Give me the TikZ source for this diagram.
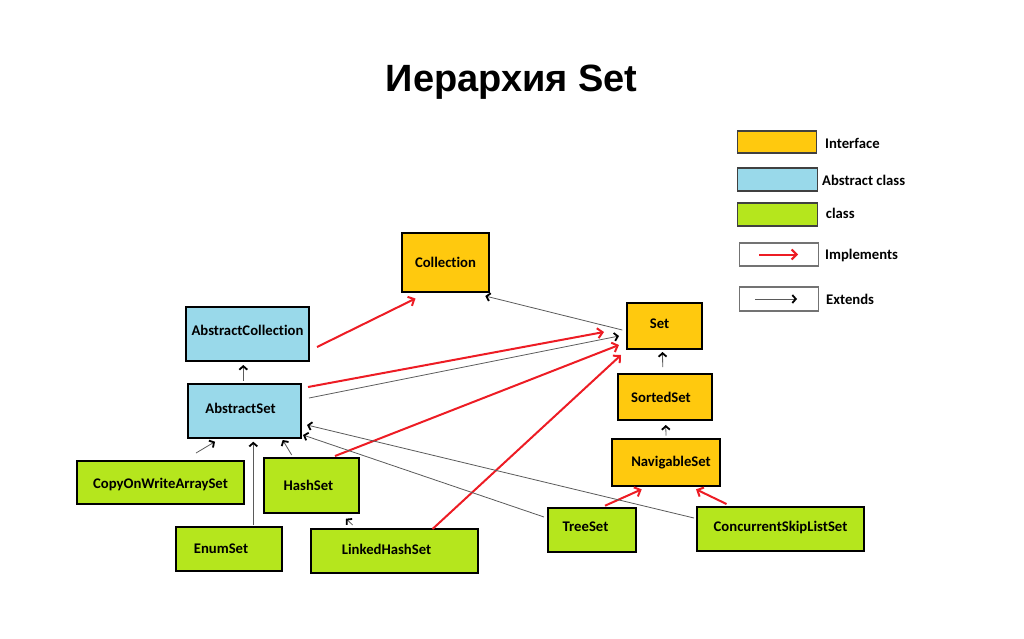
\documentclass[tikz,border=0pt]{standalone}
\usepackage{fontspec}
\setmainfont{Liberation Sans}
\newfontfamily\boxfont[Ligatures=NoCommon]{Carlito}
\usetikzlibrary{arrows.meta}
\definecolor{ifc}{RGB}{255,201,14}
\definecolor{abc}{RGB}{153,217,234}
\definecolor{clc}{RGB}{181,230,29}
\definecolor{impl}{RGB}{237,28,36}
\definecolor{extl}{RGB}{90,90,90}
\tikzset{
  ubox/.style={draw=black, line width=2pt, inner sep=0pt},
  iface/.style={ubox, fill=ifc},
  abst/.style={ubox, fill=abc},
  klass/.style={ubox, fill=clc},
  lbl/.style={font=\boxfont\bfseries\fontsize{14.7}{17}\selectfont, inner sep=0pt},
  legbox/.style={draw=black!75, line width=1.3pt, inner sep=0pt, minimum width=79.5pt, minimum height=23pt},
  implarrow/.style={draw=impl, line width=2pt, -{Straight Barb[length=5pt,width=10pt]}},
  extarrow/.style={draw=extl, line width=0.8pt, -{Straight Barb[black,line width=1.8pt,length=3.5pt,width=8pt]}},
}
\begin{document}
\begin{tikzpicture}[x=1pt,y=-1pt]
\useasboundingbox (0,0) rectangle (1024,638);
\node[font=\bfseries\fontsize{38}{44}\selectfont] (title) at (511.7,82) {Иерархия Set};

% nodes
\node[iface, minimum width=87pt, minimum height=59pt, label={[lbl]center:Collection}] (coll) at (445.5,262) {};
\node[abst, minimum width=123pt, minimum height=54pt, label={[lbl,yshift=4pt]center:AbstractCollection}] (acoll) at (247.5,334) {};
\node[abst, minimum width=113pt, minimum height=54pt, label={[lbl,xshift=-4pt,yshift=3pt]center:AbstractSet}] (aset) at (244.5,411) {};
\node[klass, minimum width=167pt, minimum height=43pt, label={[lbl,yshift=-2pt]center:CopyOnWriteArraySet}] (cow) at (160.5,482.5) {};
\node[klass, minimum width=95pt, minimum height=55pt, label={[lbl,xshift=-3pt]center:HashSet}] (hash) at (311.5,485.5) {};
\node[klass, minimum width=106pt, minimum height=44pt, label={[lbl,xshift=-8pt]center:EnumSet}] (enum) at (229,549) {};
\node[klass, minimum width=167pt, minimum height=44pt, label={[lbl,xshift=-8pt,yshift=2pt]center:LinkedHashSet}] (lhs) at (394.5,551) {};
\node[iface, minimum width=75pt, minimum height=46pt, label={[lbl,xshift=-5pt,yshift=2pt]center:Set}] (set) at (664.5,326) {};
\node[iface, minimum width=94pt, minimum height=46pt, label={[lbl,xshift=-4pt]center:SortedSet}] (sorted) at (665,397) {};
\node[iface, minimum width=108pt, minimum height=47pt, label={[lbl,xshift=5pt]center:NavigableSet}] (nav) at (666,462.5) {};
\node[klass, minimum width=88pt, minimum height=44pt, label={[lbl,xshift=-6.5pt,yshift=3pt]center:TreeSet}] (tree) at (592,530) {};
\node[klass, minimum width=167pt, minimum height=44pt, label={[lbl,yshift=2pt]center:ConcurrentSkipListSet}] (csls) at (780.5,529) {};

% legend
\node[legbox, fill=ifc, minimum height=22pt] (lgi) at (777,142) {};
\node[legbox, fill=abc] (lga) at (777.5,179.5) {};
\node[legbox, fill=clc] (lgc) at (777.5,214.5) {};
\node[legbox, draw=black!55, fill=white] (lgimpl) at (779,254.5) {};
\node[legbox, draw=black!55, fill=white, minimum height=24pt] (lgext) at (779,299) {};
\node[lbl, anchor=west] (ti) at (825,143) {Interface};
\node[lbl, anchor=west] (ta) at (822,180) {Abstract class};
\node[lbl, anchor=west] (tc) at (825.7,213) {class};
\node[lbl, anchor=west] (timpl) at (825,255) {Implements};
\node[lbl, anchor=west] (text) at (826,299) {Extends};
\draw[implarrow] ([shift={(-20,0)}]lgimpl.center) -- ([shift={(19,0)}]lgimpl.center);
\draw[extarrow] ([shift={(-24,0)}]lgext.center) -- ([shift={(18,0)}]lgext.center);

% implements
\draw[implarrow] ([shift={(7,13)}]acoll.east) -- ([shift={(-30,6)}]coll.south);
\draw[implarrow] ([shift={(6,4)}]aset.north east) -- ([shift={(-22,6)}]set.west);
\draw[implarrow] ([shift={(23.5,-1)}]hash.north) -- ([shift={(-7,19)}]set.west);
\draw[implarrow] ([shift={(38,1)}]lhs.north) -- ([shift={(-5,5)}]set.south west);
\draw[implarrow] ([shift={(13,-1.3)}]tree.north) -- ([shift={(-24.3,2.3)}]nav.south);
\draw[implarrow] ([shift={(-54,-2)}]csls.north) -- ([shift={(30,2.3)}]nav.south);

% extends
\draw[extarrow] ([shift={(7,15)}]aset.north east) -- ([shift={(-7,10)}]set.west);
\draw[extarrow] ([shift={(-3.7,4)}]set.west) -- ([shift={(-4.7,3.5)}]coll.south east);
\draw[extarrow] ([shift={(-2.3,-6)}]sorted.north) -- ([shift={(-2,2)}]set.south);
\draw[extarrow] ([shift={(0,-2.5)}]nav.north) -- ([shift={(0.7,4)}]sorted.south);
\draw[extarrow] ([shift={(-3,-13)}]tree.west) -- ([shift={(1,-4)}]aset.south east);
\draw[extarrow] ([shift={(-2,-11)}]csls.west) -- ([shift={(5,14)}]aset.east);
\draw[extarrow] ([shift={(35.5,-7)}]cow.north) -- ([shift={(-29.5,2.7)}]aset.south);
\draw[extarrow] ([shift={(24.3,-1)}]enum.north) -- ([shift={(8.8,2.7)}]aset.south);
\draw[extarrow] ([shift={(-19.8,-2)}]hash.north) -- ([shift={(38.2,1)}]aset.south);
\draw[extarrow] ([shift={(-41.8,-3)}]lhs.north) -- ([shift={(34.5,4.7)}]hash.south);
\draw[extarrow] ([shift={(-1.2,-2.3)}]aset.north) -- ([shift={(-4.2,3)}]acoll.south);
\end{tikzpicture}
\end{document}
